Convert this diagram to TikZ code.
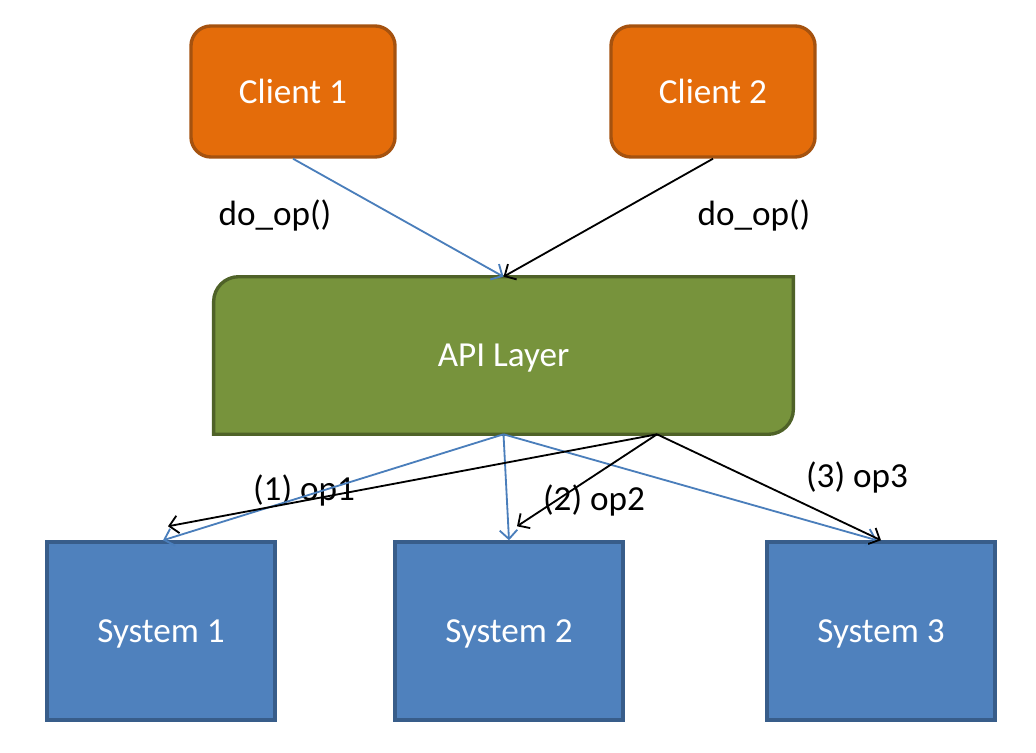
\documentclass[tikz,border=0pt]{standalone}
\usepackage{fontspec}
\setmainfont{Carlito}
\usetikzlibrary{arrows.meta, calc}
\usepackage{xcolor}

\definecolor{clientfill}{HTML}{E46C0A}
\definecolor{clientline}{HTML}{A5520F}
\definecolor{apifill}{HTML}{77933C}
\definecolor{apiline}{HTML}{4F6228}
\definecolor{sysfill}{HTML}{4F81BD}
\definecolor{sysline}{HTML}{385D8A}
\definecolor{callblue}{HTML}{4A7EBB}

\begin{document}
\begin{tikzpicture}[
  x=0.025cm, y=-0.025cm,
  font=\fontsize{25}{30}\selectfont,
  client/.style={rectangle, rounded corners=0.5cm, minimum width=5.1cm, minimum height=3.275cm,
    text centered, draw=clientline, fill=clientfill, line width=2.4pt, text=white},
  apibox/.style={rectangle, minimum width=14.475cm, minimum height=3.925cm, text=white},
  system/.style={rectangle, minimum width=5.7cm, minimum height=4.45cm, text depth=0pt,
    text centered, draw=sysline, fill=sysfill, line width=2.4pt, text=white},
  label/.style={text=black},
  bluecall/.style={-{Straight Barb[length=2.2mm, width=4.4mm]}, draw=callblue, line width=1.3pt},
  blackcall/.style={-{Straight Barb[length=2.2mm, width=4.4mm]}, draw=black, line width=1.3pt}
]
\useasboundingbox (0,0) rectangle (1036,753);

\node (client1) [client] at (293,91.5) {Client 1};
\node (client2) [client] at (713,91.5) {Client 2};

% API layer: only two corners are rounded
\node (api) [apibox] at (503.5,355.5) {};
\filldraw[draw=apiline, fill=apifill, line width=2.4pt]
  (api.south west) -- ($(api.north west)+(0,25)$) arc[start angle=180, end angle=90, radius=0.625cm]
  -- (api.north east) -- ($(api.south east)+(0,-25)$) arc[start angle=0, end angle=-90, radius=0.625cm]
  -- cycle;
\node (apitext) [apibox, text depth=0pt] at (api.center) {API Layer};

\node (sys1) [system] at (161,631) {System 1};
\node (sys2) [system] at (509,631) {System 2};
\node (sys3) [system] at (881,631) {System 3};

\node (call1) [label] at (275,215) {do\_op()};
\node (call2) [label] at (754,215) {do\_op()};
\node (op1) [label] at (304,490) {(1) op1};
\node (op2) [label] at (594,500) {(2) op2};
\node (op3) [label] at (857,477) {(3) op3};

\draw [bluecall] (client1.south) -- (api.north);
\draw [blackcall] (client2.south) -- (api.north);

\draw [bluecall] (api.south) -- ($(sys1.north)+(2,0)$);
\draw [bluecall] (api.south) -- (sys2.north);
\draw [bluecall] (api.south) -- ($(sys3.north)+(-4,0)$);

\draw [blackcall] ($(api.south)+(153.5,0)$) -- ($(sys1.north)+(7,-14)$);
\draw [blackcall] ($(api.south)+(153.5,0)$) -- ($(sys2.north)+(8,-14)$);
\draw [blackcall] ($(api.south)+(153.5,0)$) -- (sys3.north);

\end{tikzpicture}
\end{document}
